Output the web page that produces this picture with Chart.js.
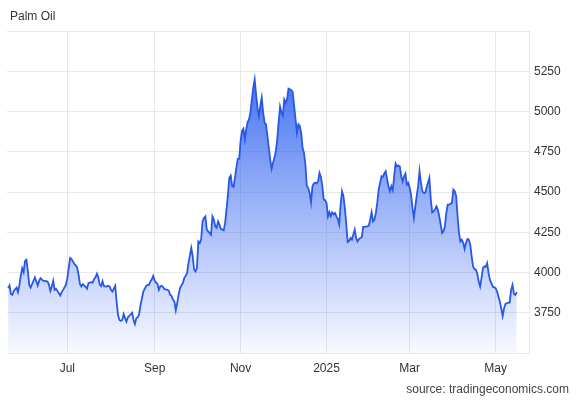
<!DOCTYPE html>
<html>
<head>
<meta charset="utf-8">
<script src="https://cdn.jsdelivr.net/npm/chart.js@4.4.1/dist/chart.umd.min.js"></script>
<style>
html,body{margin:0;padding:0;background:#fff;}
#wrap{position:relative;width:577px;height:400px;}
canvas{display:block;}
</style>
</head>
<body>
<div id="wrap"><canvas id="c" width="577" height="400"></canvas></div>
<script>
const titleText = 'Palm Oil';
const sourceText = 'source: tradingeconomics.com';

const dates = [
'2024-05-20','2024-05-21','2024-05-22','2024-05-23','2024-05-24','2024-05-26','2024-05-27','2024-05-28','2024-05-29','2024-05-30','2024-05-31',
'2024-06-01','2024-06-02','2024-06-03','2024-06-04','2024-06-05','2024-06-07','2024-06-08','2024-06-09','2024-06-10','2024-06-11','2024-06-12','2024-06-14','2024-06-15','2024-06-17','2024-06-18','2024-06-19','2024-06-20','2024-06-21','2024-06-22','2024-06-23','2024-06-24','2024-06-25','2024-06-26','2024-06-27','2024-06-28','2024-06-30',
'2024-07-01','2024-07-02','2024-07-03','2024-07-04','2024-07-05','2024-07-06','2024-07-07','2024-07-08','2024-07-09','2024-07-10','2024-07-11','2024-07-12','2024-07-14','2024-07-15','2024-07-16','2024-07-18','2024-07-19','2024-07-20','2024-07-21','2024-07-22','2024-07-23','2024-07-24','2024-07-25','2024-07-26','2024-07-27','2024-07-29','2024-07-30','2024-07-31',
'2024-08-01','2024-08-02','2024-08-04','2024-08-05','2024-08-06','2024-08-07','2024-08-08','2024-08-09','2024-08-10','2024-08-11','2024-08-12','2024-08-13','2024-08-14','2024-08-16','2024-08-17','2024-08-18','2024-08-19','2024-08-20','2024-08-21','2024-08-22','2024-08-23','2024-08-24','2024-08-26','2024-08-27','2024-08-28','2024-08-29','2024-08-30','2024-08-31',
'2024-09-01','2024-09-02','2024-09-03','2024-09-04','2024-09-05','2024-09-06','2024-09-07','2024-09-08','2024-09-10','2024-09-11','2024-09-12','2024-09-13','2024-09-14','2024-09-15','2024-09-16','2024-09-17','2024-09-18','2024-09-19','2024-09-21','2024-09-22','2024-09-23','2024-09-24','2024-09-25','2024-09-27','2024-09-28','2024-09-29','2024-09-30',
'2024-10-01','2024-10-02','2024-10-03','2024-10-04','2024-10-05','2024-10-06','2024-10-07','2024-10-08','2024-10-09','2024-10-10','2024-10-11','2024-10-12','2024-10-13','2024-10-14','2024-10-15','2024-10-16','2024-10-17','2024-10-18','2024-10-20','2024-10-21','2024-10-22','2024-10-23','2024-10-24','2024-10-25','2024-10-26','2024-10-27','2024-10-28','2024-10-29','2024-10-30','2024-10-31',
'2024-11-01','2024-11-02','2024-11-03','2024-11-04','2024-11-05','2024-11-06','2024-11-07','2024-11-08','2024-11-09','2024-11-10','2024-11-11','2024-11-12','2024-11-13','2024-11-14','2024-11-15','2024-11-16','2024-11-17','2024-11-18','2024-11-19','2024-11-20','2024-11-21','2024-11-22','2024-11-23','2024-11-24','2024-11-25','2024-11-26','2024-11-27','2024-11-28','2024-11-29','2024-11-30',
'2024-12-01','2024-12-02','2024-12-03','2024-12-04','2024-12-05','2024-12-06','2024-12-07','2024-12-08','2024-12-09','2024-12-10','2024-12-11','2024-12-12','2024-12-13','2024-12-14','2024-12-15','2024-12-16','2024-12-17','2024-12-18','2024-12-19','2024-12-20','2024-12-21','2024-12-22','2024-12-23','2024-12-24','2024-12-25','2024-12-26','2024-12-27','2024-12-28','2024-12-29','2024-12-30','2024-12-31',
'2025-01-01','2025-01-02','2025-01-03','2025-01-04','2025-01-05','2025-01-06','2025-01-07','2025-01-08','2025-01-09','2025-01-10','2025-01-11','2025-01-12','2025-01-13','2025-01-14','2025-01-15','2025-01-16','2025-01-17','2025-01-18','2025-01-19','2025-01-21','2025-01-22','2025-01-23','2025-01-24','2025-01-25','2025-01-26','2025-01-27','2025-01-28','2025-01-30','2025-01-31',
'2025-02-01','2025-02-02','2025-02-03','2025-02-04','2025-02-05','2025-02-06','2025-02-07','2025-02-09','2025-02-10','2025-02-11','2025-02-12','2025-02-13','2025-02-14','2025-02-15','2025-02-16','2025-02-17','2025-02-18','2025-02-19','2025-02-20','2025-02-21','2025-02-22','2025-02-23','2025-02-24','2025-02-25','2025-02-26','2025-02-27','2025-02-28',
'2025-03-01','2025-03-02','2025-03-03','2025-03-04','2025-03-05','2025-03-06','2025-03-07','2025-03-08','2025-03-09','2025-03-10','2025-03-11','2025-03-12','2025-03-13','2025-03-14','2025-03-15','2025-03-16','2025-03-17','2025-03-18','2025-03-19','2025-03-20','2025-03-21','2025-03-22','2025-03-23','2025-03-24','2025-03-25','2025-03-26','2025-03-27','2025-03-28','2025-03-29','2025-03-31',
'2025-04-01','2025-04-02','2025-04-03','2025-04-04','2025-04-05','2025-04-06','2025-04-07','2025-04-08','2025-04-09','2025-04-10','2025-04-11','2025-04-12','2025-04-13','2025-04-14','2025-04-15','2025-04-16','2025-04-17','2025-04-18','2025-04-19','2025-04-20','2025-04-21','2025-04-22','2025-04-23','2025-04-24','2025-04-25','2025-04-26','2025-04-27','2025-04-28','2025-04-29',
'2025-05-01','2025-05-02','2025-05-03','2025-05-04','2025-05-05','2025-05-06','2025-05-07','2025-05-08','2025-05-10','2025-05-11','2025-05-12','2025-05-13','2025-05-14','2025-05-15','2025-05-16'
];

const prices = [
3903,3919,3865,3861,3886,3906,3878,3923,3981,4027,4002,
4072,4079,4006,3923,3906,3948,3969,3944,3919,3948,3965,3948,3948,3944,3923,3886,3913,3948,3892,3899,3886,3871,3857,3878,3892,3923,
3965,4027,4090,4083,4069,4053,4044,4031,3985,3928,3913,3928,3911,3899,3934,3940,3937,3958,3970,3992,3970,3925,3915,3946,3915,3913,3917,3913,
3892,3881,3917,3819,3736,3705,3699,3705,3742,3717,3695,3722,3730,3750,3705,3680,3717,3722,3742,3799,3840,3881,3917,3923,3923,3944,3958,3979,
3950,3937,3929,3892,3913,3917,3909,3896,3892,3888,3861,3855,3830,3820,3765,3810,3861,3903,3934,3965,3979,3996,4058,4152,4100,4017,4006,
4027,4193,4183,4204,4318,4339,4349,4266,4256,4246,4235,4349,4329,4287,4277,4318,4298,4271,4262,4308,4391,4484,4588,4602,4536,4532,4588,4650,4706,4706,
4816,4878,4893,4827,4890,4935,4952,4994,5075,5148,5200,5107,5024,4972,5035,5087,4994,4932,4920,4850,4775,4702,4644,4681,4712,4754,4827,4932,5031,4994,
4975,5075,5055,5075,5142,5138,5133,5121,5035,4952,4868,4920,4910,4868,4775,4743,4671,4536,4526,4494,4436,4536,4553,4557,4553,4567,4619,4594,4540,4453,4449,
4432,4349,4374,4349,4374,4360,4370,4349,4332,4298,4422,4505,4474,4400,4300,4190,4195,4215,4204,4266,4215,4193,4208,4215,4220,4283,4283,4287,4291,
4329,4374,4318,4329,4370,4432,4515,4598,4594,4615,4629,4577,4536,4505,4536,4511,4598,4677,4660,4664,4660,4598,4567,4598,4615,4546,4557,
4526,4484,4401,4339,4411,4474,4536,4629,4557,4505,4494,4494,4526,4557,4588,4453,4374,4380,4391,4411,4391,4349,4298,4246,4256,4287,4370,4422,4422,4432,
4515,4505,4474,4349,4246,4193,4204,4184,4146,4184,4208,4204,4173,4100,4038,4021,4017,3992,3944,3913,3965,4027,4038,4035,4058,3996,3954,3934,3913,
3903,3882,3851,3820,3778,3730,3778,3805,3813,3813,3892,3923,3867,3861,3878
];

const xTickDates = ['2024-07-01','2024-09-01','2024-11-01','2025-01-01','2025-03-01','2025-05-01'];
const xTickLabels = ['Jul','Sep','Nov','2025','Mar','May'];
const yTicks = [3500,3750,4000,4250,4500,4750,5000,5250,5500];
const yMin = 3500, yMax = 5500;
const xStart = '2024-05-19', xEnd = '2025-05-24';

function dayNum(s){ const p = s.split('-').map(Number); return Date.UTC(p[0], p[1]-1, p[2]) / 86400000; }

const points = dates.map((d,i)=>({x: dayNum(d), y: prices[i]}));
const tickVals = xTickDates.map(dayNum);

Chart.defaults.font.family = '"Liberation Sans", Arial, Helvetica, sans-serif';
Chart.defaults.font.size = 12;
Chart.defaults.color = '#333';

const textPlugin = {
  id: 'texts',
  afterDraw(chart){
    const ctx = chart.ctx;
    ctx.save();
    ctx.font = '12px "Liberation Sans", Arial, sans-serif';
    ctx.fillStyle = '#333';
    ctx.textBaseline = 'middle';
    ctx.textAlign = 'left';
    ctx.fillText(titleText, 10, 17);
    ctx.fillStyle = '#444';
    ctx.textAlign = 'right';
    ctx.fillText(sourceText, 569, 390);
    ctx.restore();
  }
};

const gridColor = '#e8e8e8';

new Chart(document.getElementById('c'), {
  type: 'line',
  data: {
    datasets: [{
      data: points,
      borderColor: '#2858e4',
      borderWidth: 1.8,
      pointRadius: 0,
      tension: 0,
      fill: 'start',
      backgroundColor: (ctx) => {
        const ca = ctx.chart.chartArea;
        if (!ca) return 'rgba(45,95,240,0.5)';
        const g = ctx.chart.ctx.createLinearGradient(0, ca.top, 0, ca.bottom);
        g.addColorStop(0, 'rgba(40,92,240,1)');
        g.addColorStop(0.45, 'rgba(40,92,240,0.55)');
        g.addColorStop(1, 'rgba(40,92,240,0.03)');
        return g;
      }
    }]
  },
  options: {
    responsive: false,
    animation: false,
    events: [],
    layout: { padding: { top: 31, left: 7, right: 0, bottom: 0 } },
    plugins: { legend: { display: false }, title: { display: false }, tooltip: { enabled: false } },
    scales: {
      x: {
        type: 'linear',
        min: dayNum(xStart) + 0.2,
        max: dayNum(xEnd) + 0.7,
        afterBuildTicks: (s) => { s.ticks = tickVals.map(v => ({value: v})); },
        afterFit: (s) => { s.height = 47; },
        ticks: {
          autoSkip: false,
          maxRotation: 0,
          padding: 8,
          color: '#333',
          callback: (v) => { const i = tickVals.indexOf(v); return i >= 0 ? xTickLabels[i] : ''; }
        },
        grid: { color: gridColor, drawTicks: false },
        border: { display: false }
      },
      y: {
        position: 'right',
        min: yMin,
        max: yMax,
        afterBuildTicks: (s) => { s.ticks = yTicks.map(v => ({value: v})); },
        afterFit: (s) => { s.width = 48; },
        ticks: {
          padding: 5,
          color: '#333',
          callback: (v) => (v === yMin || v === yMax) ? '' : String(v)
        },
        grid: { color: gridColor, drawTicks: false },
        border: { display: true, color: gridColor }
      }
    }
  },
  plugins: [textPlugin]
});
</script>
</body>
</html>
